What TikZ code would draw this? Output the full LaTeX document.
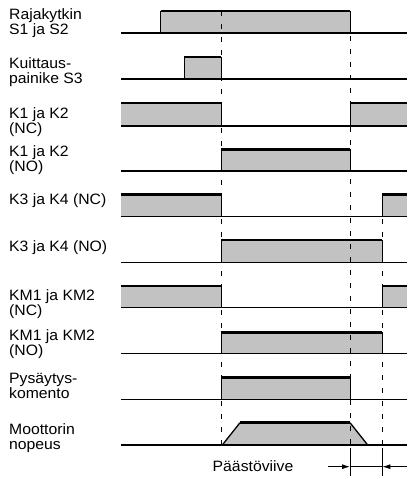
\documentclass[tikz,border=0pt]{standalone}
\usepackage{fontspec}
\setmainfont{Liberation Sans}[FakeStretch=1.05]
\usetikzlibrary{arrows.meta}
\newcommand{\mypulse}[4]{%
 \fill[sigfill] (#1,#3) rectangle (#2,#4);
 \draw[edge] (#1,#4)--(#1,#3) (#2,#3)--(#2,#4);
 \draw[hiline] (#1,#3)--(#2,#3);}
\newcommand{\myleft}[3]{%
 \fill[sigfill] (121,#2) rectangle (#1,#3);
 \draw[edge] (#1,#2)--(#1,#3);
 \draw[hiline] (121,#2)--(#1,#2);}
\newcommand{\myright}[3]{%
 \fill[sigfill] (#1,#2) rectangle (407,#3);
 \draw[edge] (#1,#3)--(#1,#2);
 \draw[hiline] (#1,#2)--(407,#2);}
\begin{document}
\begin{tikzpicture}[x=1pt,y=-1pt,
  lbl/.style={anchor=base west,inner sep=0pt,align=left,font=\fontsize{15}{14.8}\selectfont},
  sigfill/.style={fill=black!24},
  hiline/.style={line width=2.6pt},
  edge/.style={line width=1pt},
  baseln/.style={line width=1.2pt},
  guide/.style={line width=0.9pt,dash pattern=on 5pt off 8pt},
  dimarrow/.style={line width=0.9pt,-{Latex[length=8pt,width=5pt]}}]
\useasboundingbox (0,0) rectangle (407,479);
% labels (anchor = baseline of last line)
\node[lbl] (l1) at (9,34.3) {Rajakytkin\\S1 ja S2};
\node[lbl] (l2) at (9,83.5) {Kuittaus-\\painike S3};
\node[lbl] (l3) at (9,133) {K1 ja K2\\(NC)};
\node[lbl] (l4) at (9,171) {K1 ja K2\\(NO)};
\node[lbl] (l5) at (9,204) {K3 ja K4 (NC)};
\node[lbl] (l6) at (9,251.7) {K3 ja K4 (NO)};
\node[lbl] (l7) at (9,315) {KM1 ja KM2\\(NC)};
\node[lbl] (l8) at (9,355) {KM1 ja KM2\\(NO)};
\node[lbl] (l9) at (9,398) {Pysäytys-\\komento};
\node[lbl] (l10) at (9,449.5) {Moottorin\\nopeus};
% signals
\mypulse{160.7}{350}{11}{33}
\mypulse{184}{221.3}{57}{79}
\myleft{221.3}{103}{126}
\myright{350}{103}{126}
\mypulse{221.3}{350}{149.3}{171}
\myleft{221.3}{194.7}{216.7}
\myright{382.3}{194.7}{216.7}
\mypulse{221.3}{382.3}{240}{262.7}
\myleft{221.3}{286}{307.5}
\myright{382.3}{286}{307.5}
\mypulse{221.3}{382.3}{332.3}{353.5}
\mypulse{221.3}{350}{377.7}{399.2}
\fill[sigfill] (222.3,445)--(240,422.7)--(350,422.7)--(367.7,445)--cycle;
\draw[line width=1.3pt] (222.3,445)--(240,422.7) (350,422.7)--(367.7,445);
\draw[hiline] (240,422.7)--(350,422.7);
% baselines
\foreach \y in {33,79,126,171,216.7,262.7,307.5,353.5,399.2,445}
  \draw[baseln] (121,\y)--(407,\y);
% guides
\draw[guide] (221.3,11)--(221.3,445);
\draw[guide] (350,36)--(350,445);
\draw[guide] (382.3,219)--(382.3,445);
% dimension
\coordinate (dL) at (328,466.7);
\coordinate (dA) at (350,466.7);
\coordinate (dB) at (382.3,466.7);
\coordinate (dR) at (407,466.7);
\draw[edge] (350,448)--(350,476) (382.3,448)--(382.3,476);
\draw[edge] (dA)--(dB);
\draw[dimarrow] (dL)--(dA);
\draw[dimarrow] (dR)--(dB);
\node[lbl,anchor=base] (dt) at (253,471.7) {Päästöviive};
\end{tikzpicture}
\end{document}
